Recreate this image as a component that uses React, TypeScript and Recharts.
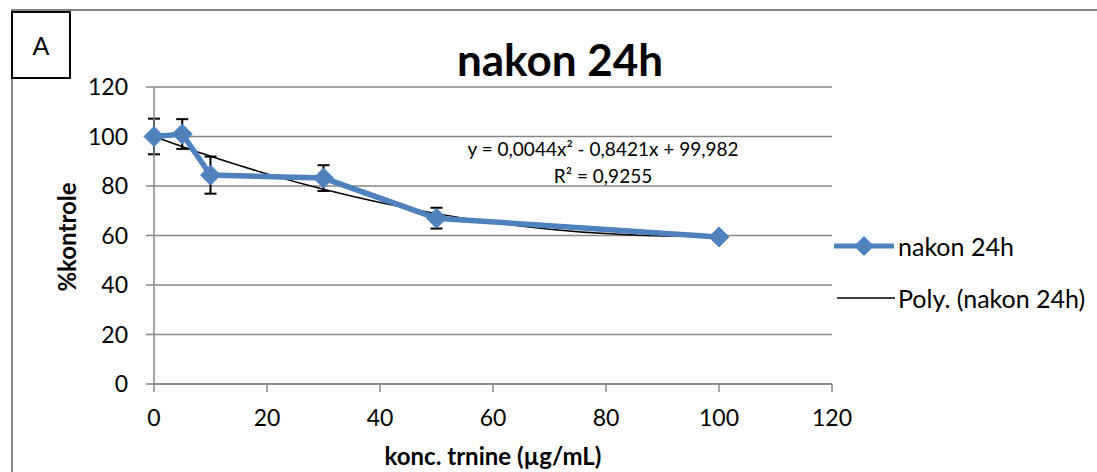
import React from 'react';
import { ComposedChart, Line, XAxis, YAxis, CartesianGrid, ErrorBar, Legend } from 'recharts';

const concentrations = [0, 5, 10, 30, 50, 100];
const percentControl = [100, 101, 84.4, 83.2, 67, 59.4];
const errors = [7.2, 6, 7.5, 5.2, 4.2, 1];
const trendX = [0, 10, 20, 30, 40, 50, 60, 70, 80, 90, 100];
const trendY = [99.98, 91.99, 84.89, 78.65, 73.3, 68.84, 65.26, 62.57, 60.76, 59.84, 59.8];
const xTicks = [0, 20, 40, 60, 80, 100, 120];
const yTicks = [0, 20, 40, 60, 80, 100, 120];
const seriesName = 'nakon 24h';
const trendName = 'Poly. (nakon 24h)';
const equationText = 'y = 0,0044x² - 0,8421x + 99,982';
const r2Text = 'R² = 0,9255';

const mainData = concentrations.map((x, i) => ({ x, y: percentControl[i], err: errors[i] }));
const trendData = trendX.map((x, i) => ({ x, t: trendY[i] }));

const BLUE = '#4F81BD';
const GRID = '#868686';
const FONT = 'Lato, "Open Sans", sans-serif';

const Diamond = (props: any) => {
  const { cx, cy } = props;
  if (cx == null || cy == null) return null;
  const r = 10;
  return <polygon points={`${cx},${cy - r} ${cx + r},${cy} ${cx},${cy + r} ${cx - r},${cy}`} fill={BLUE} stroke={BLUE} />;
};

const LegendContent = () => (
  <div style={{ fontFamily: FONT, fontSize: 25, color: '#000' }}>
    <div style={{ display: 'flex', alignItems: 'center', height: 40 }}>
      <svg width={64} height={24}>
        <line x1={0} y1={12} x2={60} y2={12} stroke={BLUE} strokeWidth={5} />
        <polygon points="30,2 40,12 30,22 20,12" fill={BLUE} />
      </svg>
      <span>{seriesName}</span>
    </div>
    <div style={{ display: 'flex', alignItems: 'center', height: 40, marginTop: 12 }}>
      <svg width={64} height={24}>
        <line x1={3} y1={12} x2={61} y2={12} stroke="#000" strokeWidth={1.5} />
      </svg>
      <span>{trendName}</span>
    </div>
  </div>
);

export default function App() {
  return (
    <div style={{ position: 'absolute', left: 0, top: 0, width: 1097, height: 472, background: '#fff', overflow: 'hidden' }}>
      <ComposedChart width={1097} height={472} margin={{ top: 87, right: 265, bottom: 28, left: 94 }} style={{ fontFamily: FONT }}>
        <CartesianGrid vertical={false} stroke={GRID} strokeWidth={1.5} />
        <XAxis
          type="number"
          dataKey="x"
          domain={[0, 120]}
          ticks={xTicks}
          allowDuplicatedCategory={false}
          height={60}
          stroke={GRID}
          strokeWidth={1.5}
          tickSize={8}
          tickMargin={18}
          tick={{ fill: '#000', fontSize: 23, fontFamily: FONT }}
        />
        <YAxis
          type="number"
          domain={[0, 120]}
          ticks={yTicks}
          width={60}
          stroke={GRID}
          strokeWidth={1.5}
          tickSize={8}
          tickMargin={18}
          tick={{ fill: '#000', fontSize: 23, fontFamily: FONT }}
        />
        <Line
          data={trendData}
          dataKey="t"
          name={trendName}
          type="monotone"
          stroke="#000"
          strokeWidth={1.5}
          dot={false}
          activeDot={false}
          isAnimationActive={false}
        />
        <Line
          data={mainData}
          dataKey="y"
          name={seriesName}
          type="linear"
          stroke={BLUE}
          strokeWidth={5.5}
          dot={<Diamond />}
          activeDot={false}
          isAnimationActive={false}
        >
          <ErrorBar dataKey="err" direction="y" stroke="#000" strokeWidth={2} width={6} isAnimationActive={false} />
        </Line>
        <Legend
          layout="vertical"
          align="center"
          verticalAlign="middle"
          content={<LegendContent />}
          wrapperStyle={{ left: 834, top: 226, width: 263 }}
        />
        <text x={560} y={76} textAnchor="middle" fontFamily={FONT} fontWeight="bold" fontSize={44} fill="#000">{seriesName}</text>
        <text x={603} y={156} textAnchor="middle" fontFamily={FONT} fontSize={19} fill="#000">{equationText}</text>
        <text x={603} y={183} textAnchor="middle" fontFamily={FONT} fontSize={19} fill="#000">{r2Text}</text>
        <text x={76} y={237} textAnchor="middle" transform="rotate(-90 76 237)" fontFamily={FONT} fontWeight="bold" fontSize={24} fill="#000">%kontrole</text>
        <text x={493} y={465} textAnchor="middle" fontFamily={FONT} fontWeight="bold" fontSize={24} fill="#000">konc. trnine (µg/mL)</text>
      </ComposedChart>
      <div style={{ position: 'absolute', left: 11, top: 9, width: 1200, height: 600, borderTop: `2px solid ${GRID}`, borderLeft: `2px solid ${GRID}` }} />
      <div style={{ position: 'absolute', left: 11, top: 11, width: 56, height: 64, border: '2px solid #000', background: '#fff', fontFamily: FONT, fontSize: 25, display: 'flex', alignItems: 'center', justifyContent: 'center' }}>A</div>
    </div>
  );
}
